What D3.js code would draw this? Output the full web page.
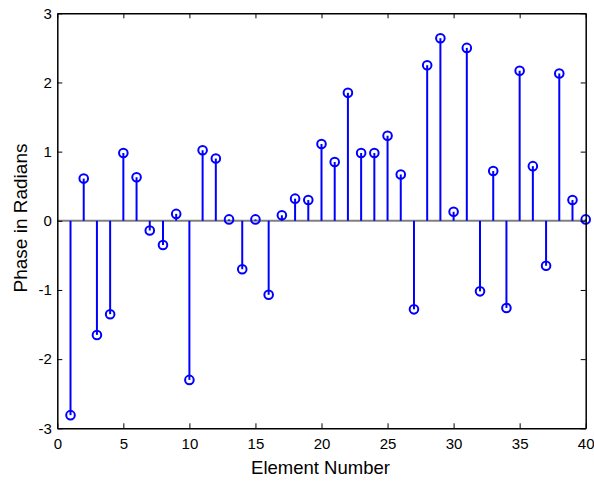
<!DOCTYPE html>
<html>
<head>
<meta charset="utf-8">
<script src="https://cdn.jsdelivr.net/npm/d3@7"></script>
<style>
  body { margin: 0; background: #fff; }
  svg { display: block; font-family: "Liberation Sans", Arial, sans-serif; }
</style>
</head>
<body>
<svg id="chart" width="594" height="482"></svg>
<script>
// Element indices and their measured phase (radians)
const elements = d3.range(1, 41);
const phases = [
  -2.81, 0.61, -1.65, -1.35, 0.98, 0.63, -0.14, -0.35, 0.10, -2.30,
   1.02, 0.90, 0.02, -0.70, 0.02, -1.07, 0.08, 0.32, 0.30, 1.11,
   0.85, 1.85, 0.98, 0.98, 1.23, 0.67, -1.28, 2.25, 2.64, 0.13,
   2.50, -1.02, 0.72, -1.26, 2.17, 0.79, -0.65, 2.13, 0.30, 0.02
];
const xTicks = [0, 5, 10, 15, 20, 25, 30, 35, 40];
const yTicks = [-3, -2, -1, 0, 1, 2, 3];

const svg = d3.select("#chart");
const plotLeft = 57.3, plotRight = 585.7, plotTop = 13.3, plotBottom = 428.3;

const x = d3.scaleLinear().domain([0, 40]).range([plotLeft, plotRight]);
const y = d3.scaleLinear().domain([-3, 3]).range([plotBottom, plotTop]);

const data = elements.map((e, i) => ({ e, v: phases[i] }));

// Baseline at zero
svg.append("line")
  .attr("x1", x(0)).attr("x2", x(40))
  .attr("y1", y(0)).attr("y2", y(0))
  .attr("stroke", "#808080").attr("stroke-width", 2);

// Stems
svg.append("g").selectAll("line").data(data).join("line")
  .attr("x1", d => x(d.e)).attr("x2", d => x(d.e))
  .attr("y1", y(0)).attr("y2", d => y(d.v))
  .attr("stroke", "#0000ff").attr("stroke-width", 2);

// Markers
svg.append("g").selectAll("circle").data(data).join("circle")
  .attr("cx", d => x(d.e)).attr("cy", d => y(d.v))
  .attr("r", 4.3)
  .attr("fill", "none").attr("stroke", "#0000ff").attr("stroke-width", 2);

// Axes with inward ticks on all four sides
const tickLen = 5;
const axisStyle = g => {
  g.select(".domain").attr("stroke", "#000").attr("stroke-width", 1.5);
  g.selectAll(".tick line").attr("stroke", "#000").attr("stroke-width", 1);
  g.selectAll(".tick text").attr("fill", "#000").attr("font-size", 15)
    .attr("font-family", "Liberation Sans, Arial, sans-serif");
};

svg.append("g").attr("transform", `translate(0,${plotBottom})`)
  .call(d3.axisBottom(x).tickValues(xTicks).tickFormat(d3.format("d"))
    .tickSizeInner(-tickLen).tickSizeOuter(0).tickPadding(10))
  .call(axisStyle);

svg.append("g").attr("transform", `translate(0,${plotTop})`)
  .call(d3.axisTop(x).tickValues(xTicks).tickFormat("")
    .tickSizeInner(-tickLen).tickSizeOuter(0))
  .call(axisStyle);

svg.append("g").attr("transform", `translate(${plotLeft},0)`)
  .call(d3.axisLeft(y).tickValues(yTicks).tickFormat(d3.format("d"))
    .tickSizeInner(-tickLen).tickSizeOuter(0).tickPadding(5.5))
  .call(axisStyle);

svg.append("g").attr("transform", `translate(${plotRight},0)`)
  .call(d3.axisRight(y).tickValues(yTicks).tickFormat("")
    .tickSizeInner(-tickLen).tickSizeOuter(0))
  .call(axisStyle);

// Minus sign rendered as hyphen
svg.selectAll(".tick text").text(function() { return d3.select(this).text().replace("\u2212", "-"); });

// Axis titles
svg.append("text")
  .attr("x", (plotLeft + plotRight) / 2 - 1).attr("y", 474)
  .attr("text-anchor", "middle").attr("font-size", 18.5).attr("fill", "#000")
  .text("Element Number");

svg.append("text")
  .attr("transform", `translate(27,218) rotate(-90)`)
  .attr("text-anchor", "middle").attr("font-size", 19).attr("fill", "#000")
  .text("Phase in Radians");
</script>
</body>
</html>
